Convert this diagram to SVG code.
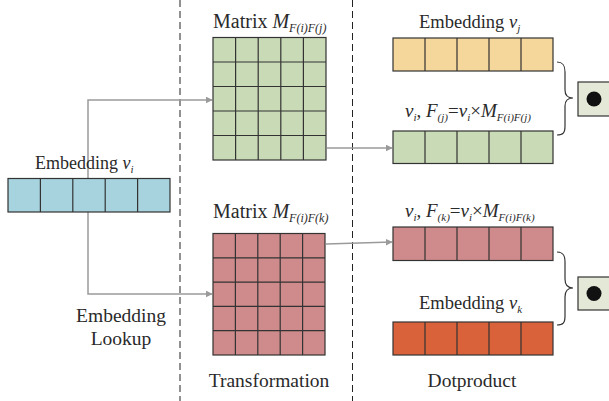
<svg xmlns="http://www.w3.org/2000/svg" width="609" height="401" viewBox="0 0 609 401" font-family="'Liberation Serif', 'DejaVu Serif', serif">
<style>
text{font-family:'Liberation Serif','DejaVu Serif',serif;fill:#2a2a2a}
.it{font-style:italic}
.cell{stroke:#333;stroke-width:1.2}
.grid{stroke:#333;stroke-width:1.2;fill:none}
.conn{stroke:#9a9a9a;stroke-width:1.5;fill:none}
.dash{stroke:#222;stroke-width:1;stroke-dasharray:7 4;fill:none}
.brace{stroke:#333;stroke-width:1.2;fill:none}
</style>
<defs>
<marker id="arr" viewBox="0 0 10 10" refX="9" refY="5" markerWidth="7" markerHeight="7" markerUnits="userSpaceOnUse" orient="auto">
<path d="M0,0 L10,5 L0,10 z" fill="#9a9a9a"/>
</marker>
</defs>
<rect width="609" height="401" fill="#fff"/>
<g id="dividers">
<line class="dash" x1="180" y1="0" x2="180" y2="401"/>
<line class="dash" x1="352.5" y1="0" x2="352.5" y2="401"/>
</g>
<g id="connectors">
<polyline class="conn" points="88,178 88,100 212,100" marker-end="url(#arr)"/>
<polyline class="conn" points="88,212 88,294 212,294" marker-end="url(#arr)"/>
<line class="conn" x1="327" y1="148" x2="392" y2="148" marker-end="url(#arr)"/>
<line class="conn" x1="326" y1="244" x2="392" y2="242" marker-end="url(#arr)"/>
<path class="brace" d="M557,62 C563,62 565,65 565,72 L565,90 C565,96 568,98 573,98 C568,98 565,100 565,106 L565,126 C565,133 563,135 557,135"/>
<path class="brace" d="M557,252 C563,252 565,255 565,262 L565,279 C565,285 568,288 573,288 C568,288 565,291 565,297 L565,316 C565,323 563,325 557,325"/>
</g>
<g id="embedding-vi">
<text x="35" y="169" font-size="18">Embedding <tspan class="it">v</tspan><tspan class="it" font-size="11" dy="4">i</tspan></text>
<rect class="cell" x="8" y="178.5" width="162" height="33.5" fill="#a7d3de"/>
<path class="grid" d="M40.4,178.5V212M72.8,178.5V212M105.2,178.5V212M137.6,178.5V212"/>
</g>
<g id="matrix-j">
<text x="213" y="28" font-size="20">Matrix <tspan class="it">M</tspan><tspan class="it" font-size="12" dy="4">F(i)F(j)</tspan></text>
<rect class="cell" x="213" y="37.5" width="113" height="122.5" fill="#c9dab7"/>
<path class="grid" d="M235.6,37.5V160M258.2,37.5V160M280.8,37.5V160M303.4,37.5V160M213,62H326M213,86.5H326M213,111H326M213,135.5H326"/>
</g>
<g id="matrix-k">
<text x="213" y="218" font-size="20">Matrix <tspan class="it">M</tspan><tspan class="it" font-size="12" dy="4">F(i)F(k)</tspan></text>
<rect class="cell" x="213" y="233.5" width="112" height="121.5" fill="#cf8b8b"/>
<path class="grid" d="M235.4,233.5V355M257.8,233.5V355M280.2,233.5V355M302.6,233.5V355M213,257.8H325M213,282.1H325M213,306.4H325M213,330.7H325"/>
</g>
<g id="embedding-vj">
<text x="419" y="28" font-size="18.5">Embedding <tspan class="it">v</tspan><tspan class="it" font-size="11" dy="4">j</tspan></text>
<rect class="cell" x="393" y="38" width="160" height="33" fill="#f5d79b"/>
<path class="grid" d="M425,38V71M457,38V71M489,38V71M521,38V71"/>
</g>
<g id="fj">
<text x="405" y="117" font-size="19"><tspan class="it">v</tspan><tspan class="it" font-size="11" dy="4">i</tspan><tspan dy="-4">, </tspan><tspan class="it">F</tspan><tspan class="it" font-size="11" dy="4">(j)</tspan><tspan dy="-4">=</tspan><tspan class="it">v</tspan><tspan class="it" font-size="11" dy="4">i</tspan><tspan dy="-4">×</tspan><tspan class="it">M</tspan><tspan class="it" font-size="11" dy="4">F(i)F(j)</tspan></text>
<rect class="cell" x="393" y="131" width="160" height="32.5" fill="#c9dab7"/>
<path class="grid" d="M425,131V163.5M457,131V163.5M489,131V163.5M521,131V163.5"/>
</g>
<g id="fk">
<text x="405" y="217" font-size="19"><tspan class="it">v</tspan><tspan class="it" font-size="11" dy="4">i</tspan><tspan dy="-4">, </tspan><tspan class="it">F</tspan><tspan class="it" font-size="11" dy="4">(k)</tspan><tspan dy="-4">=</tspan><tspan class="it">v</tspan><tspan class="it" font-size="11" dy="4">i</tspan><tspan dy="-4">×</tspan><tspan class="it">M</tspan><tspan class="it" font-size="11" dy="4">F(i)F(k)</tspan></text>
<rect class="cell" x="393" y="227" width="160" height="33.5" fill="#cf8b8b"/>
<path class="grid" d="M425,227V260.5M457,227V260.5M489,227V260.5M521,227V260.5"/>
</g>
<g id="embedding-vk">
<text x="419" y="309" font-size="18.5">Embedding <tspan class="it">v</tspan><tspan class="it" font-size="11" dy="4">k</tspan></text>
<rect class="cell" x="393" y="322" width="160" height="33" fill="#d9623b"/>
<path class="grid" d="M425,322V355M457,322V355M489,322V355M521,322V355"/>
</g>
<g id="dot-top">
<rect class="cell" x="578" y="82" width="40" height="34" fill="#e3e9d6"/>
<circle cx="594" cy="99" r="7.5" fill="#111"/>
</g>
<g id="dot-bottom">
<rect class="cell" x="578" y="277" width="40" height="33" fill="#e3e9d6"/>
<circle cx="594" cy="293.5" r="7.5" fill="#111"/>
</g>
<g id="labels">
<text x="121" y="322" font-size="19.5" text-anchor="middle">Embedding</text>
<text x="121" y="345" font-size="19.5" text-anchor="middle">Lookup</text>
<text x="269" y="387" font-size="19.5" text-anchor="middle">Transformation</text>
<text x="472" y="387" font-size="19.5" text-anchor="middle">Dotproduct</text>
</g>
</svg>
